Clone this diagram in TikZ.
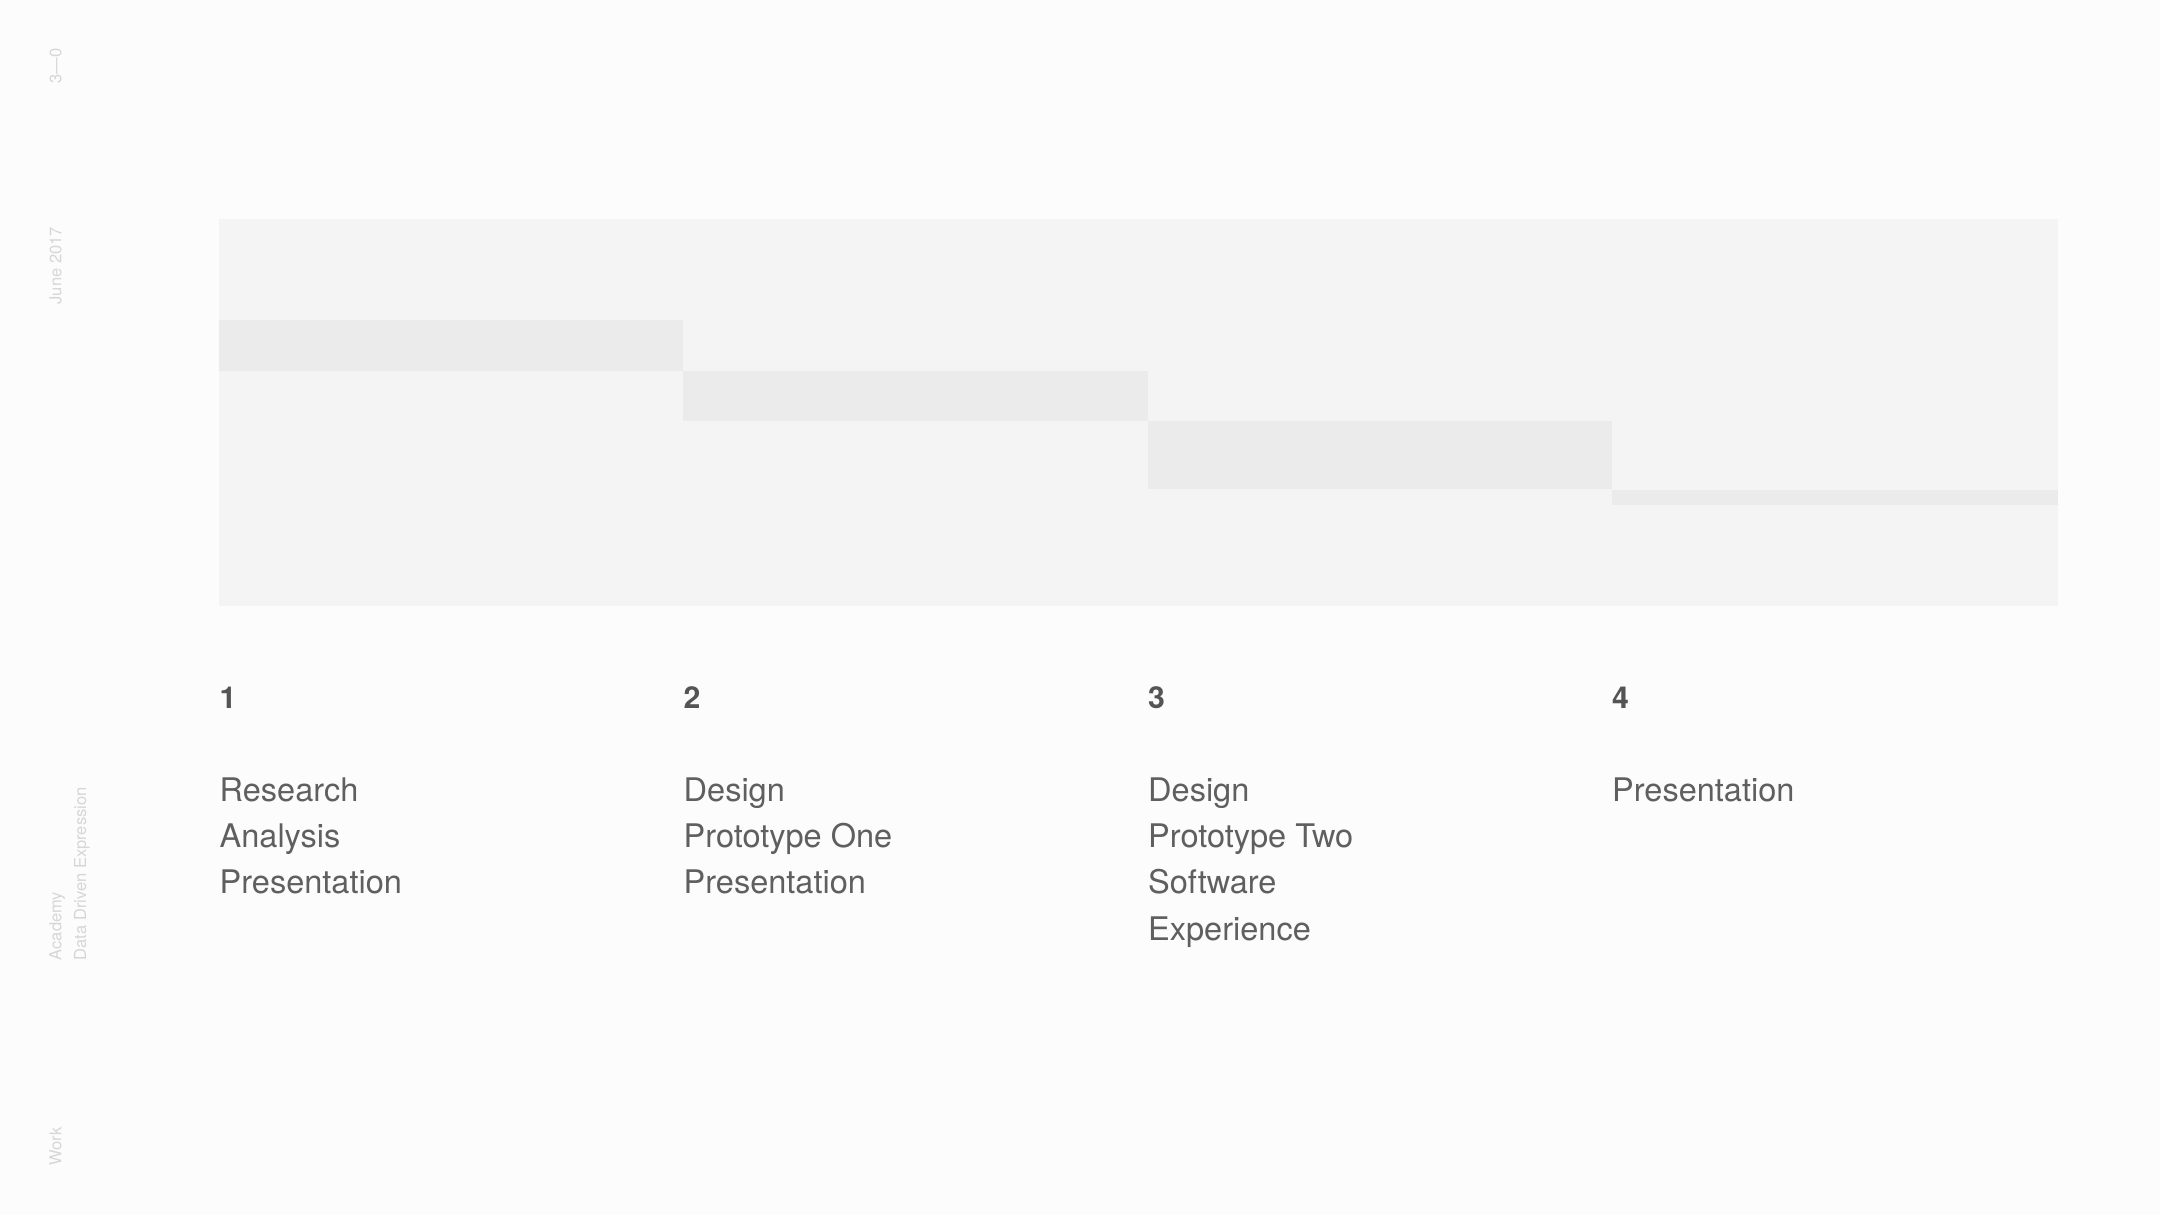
\documentclass[tikz,border=0pt]{standalone}
\usepackage{fontspec}
\setmainfont{TeX Gyre Heros}
\definecolor{pagebg}{HTML}{FCFCFC}
\definecolor{chartbg}{HTML}{F4F4F4}
\definecolor{barcol}{HTML}{EBEBEB}
\definecolor{textcol}{HTML}{5F5F5F}
\definecolor{numcol}{HTML}{545454}
\definecolor{margincol}{HTML}{D6D6D6}
\begin{document}
\begin{tikzpicture}[
  num/.style={anchor=base west, inner sep=0pt, text=numcol, font=\fontsize{8.6}{10}\selectfont\bfseries},
  task/.style={anchor=base west, inner sep=0pt, text=textcol, font=\fontsize{9.25}{11}\selectfont},
  side/.style={anchor=base west, inner sep=0pt, rotate=90, text=margincol, font=\fontsize{4.7}{5.6}\selectfont}]
\fill[pagebg] (0,0) rectangle (21.6,12.15);
\fill[chartbg] (2.19,6.09) rectangle (20.58,9.96);
\fill[barcol] (2.19,8.44) rectangle (6.83,8.95);
\fill[barcol] (6.83,7.94) rectangle (11.475,8.44);
\fill[barcol] (11.475,7.26) rectangle (16.115,7.94);
\fill[barcol] (16.115,7.10) rectangle (20.58,7.25);

\node[side] (edition) at (0.613, 11.31) {3—0};
\node[side] (date) at (0.613, 9.10) {June 2017};
\node[side] (school) at (0.613, 2.54) {Academy};
\node[side] (course) at (0.86, 2.54) {Data Driven Expression};
\node[side] (kind) at (0.613, 0.49) {Work};

\node[num] (PH1) at (2.19, 5.06) {1};
\node[task] (PH1a) at (2.19, 4.14) {Research};
\node[task] (PH1b) at (2.19, 3.677) {Analysis};
\node[task] (PH1c) at (2.19, 3.214) {Presentation};

\node[num] (PH2) at (6.83, 5.06) {2};
\node[task] (PH2a) at (6.83, 4.14) {Design};
\node[task] (PH2b) at (6.83, 3.677) {Prototype One};
\node[task] (PH2c) at (6.83, 3.214) {Presentation};

\node[num] (PH3) at (11.475, 5.06) {3};
\node[task] (PH3a) at (11.475, 4.14) {Design};
\node[task] (PH3b) at (11.475, 3.677) {Prototype Two};
\node[task] (PH3c) at (11.475, 3.214) {Software};
\node[task] (PH3d) at (11.475, 2.75) {Experience};

\node[num] (PH4) at (16.115, 5.06) {4};
\node[task] (PH4a) at (16.115, 4.14) {Presentation};
\end{tikzpicture}
\end{document}
